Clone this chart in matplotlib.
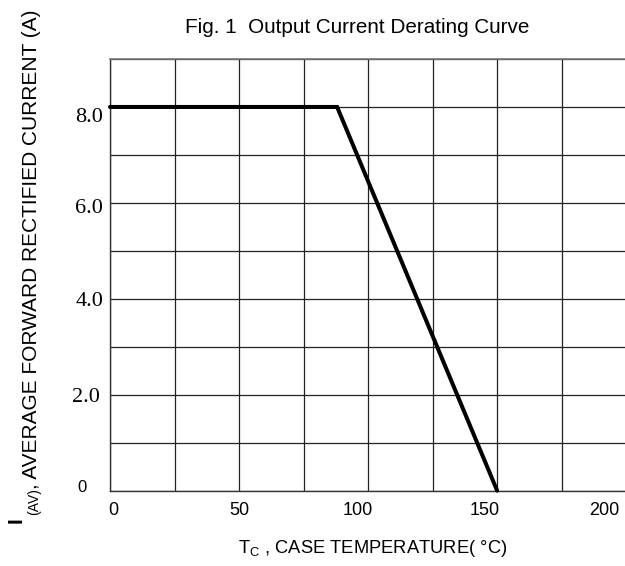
import matplotlib
matplotlib.use("Agg")
import matplotlib.pyplot as plt
import matplotlib.transforms as mtransforms

# ---- data ----
temp_c = [0, 88, 150]          # case temperature (°C)
current_a = [8.0, 8.0, 0.0]    # average forward rectified current (A)
x_ticks = [0, 50, 100, 150, 200]
x_tick_labels = ["0", "50", "100", "150", "200"]
y_ticks = [0, 2, 4, 6, 8]
y_tick_labels = ["0", "2.0", "4.0", "6.0", "8.0"]
title_text = "Fig. 1  Output Current Derating Curve"
xlabel_main = r"T$_{\mathregular{C}}$ , CASE TEMPERATURE( °C)"
ylabel_main = ", AVERAGE FORWARD RECTIFIED CURRENT (A)"

SANS = "Liberation Sans"
SERIF = "Liberation Serif"
plt.rcParams["mathtext.fontset"] = "custom"
plt.rcParams["mathtext.rm"] = SANS

W, H = 625, 566
fig = plt.figure(figsize=(W / 100, H / 100), dpi=100)
ax = fig.add_axes([110 / W, 1 - 490.7 / H, 516.2 / W, (490.7 - 59) / H])

ax.plot(temp_c, current_a, color="black", lw=2.9, solid_capstyle="round",
        solid_joinstyle="miter", zorder=5, clip_on=False)

ax.set_xlim(0, 200)
ax.set_ylim(0, 9)

ax.set_xticks(x_ticks)
ax.set_xticklabels(x_tick_labels, family=SANS, fontsize=13)
ax.set_xticks([v for v in range(0, 201, 25) if v not in x_ticks], minor=True)
ax.set_yticks(y_ticks)
ax.set_yticklabels(y_tick_labels, family=SERIF, fontsize=16)
ax.set_yticks([v for v in range(0, 10) if v not in y_ticks], minor=True)
ax.grid(True, which="both", color="#222222", lw=0.9)
ax.tick_params(which="both", length=0)
ax.tick_params(axis="x", pad=8)
ax.tick_params(axis="y", pad=5)

# per-label nudges (pixels) to mimic the datasheet layout
x_off = [3, 0, -10, -12, -22]
for lab, dx in zip(ax.get_xticklabels(), x_off):
    lab.set_transform(lab.get_transform() +
                      mtransforms.ScaledTranslation(dx / 100, 0, fig.dpi_scale_trans))
y_off = [(-16, 5), (-3, 0), (0, 0), (0, -3.5), (0, -8)]
for lab, (dx, dy) in zip(ax.get_yticklabels(), y_off):
    lab.set_transform(lab.get_transform() +
                      mtransforms.ScaledTranslation(dx / 100, dy / 100, fig.dpi_scale_trans))
ax.get_yticklabels()[0].set_family(SANS)
ax.get_yticklabels()[0].set_fontsize(12)

ax.spines["top"].set_color("#777777")
ax.spines["top"].set_linewidth(1.2)
ax.spines["right"].set_visible(False)
for s in ["left", "bottom"]:
    ax.spines[s].set_color("#333333")
    ax.spines[s].set_linewidth(1.0)

# title and axis labels
fig.text(357 / W, 1 - 33 / H, title_text, family=SANS, fontsize=14.9,
         ha="center", va="baseline")
fig.text(373 / W, 1 - 553 / H, xlabel_main, family=SANS, fontsize=13.2,
         ha="center", va="baseline")
fig.text(22 / W, 1 - 523 / H, "I", family=SANS, fontsize=15, fontweight="bold",
         rotation=90, rotation_mode="anchor", ha="left", va="baseline")
fig.text(38 / W, 1 - 515 / H, "(AV)", family=SANS, fontsize=10,
         rotation=90, rotation_mode="anchor", ha="left", va="baseline")
fig.text(37 / W, 1 - 489 / H, ylabel_main, family=SANS, fontsize=15,
         rotation=90, rotation_mode="anchor", ha="left", va="baseline")

fig.savefig("out.png", dpi=100)
